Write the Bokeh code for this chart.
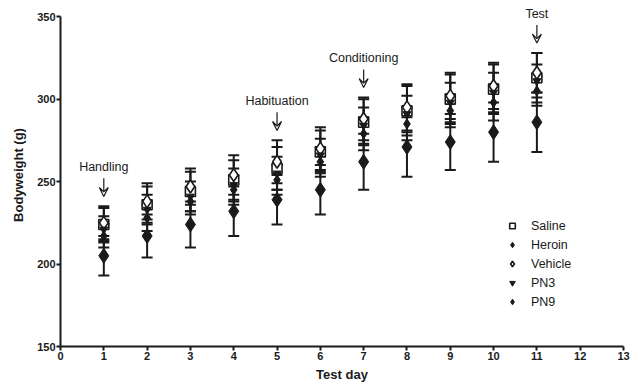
from bokeh.plotting import figure
from bokeh.models import (ColumnDataSource, Whisker, TeeHead, Range1d, FixedTicker,
                          Arrow, VeeHead, Legend, LegendItem, Label)
from bokeh.embed import file_html
from bokeh.resources import INLINE

days = [1, 2, 3, 4, 5, 6, 7, 8, 9, 10, 11]

saline_mean = [224, 236, 244, 251, 258, 268, 286, 293, 300, 306, 313]
saline_sd = [10, 11, 12, 12, 13, 13, 14, 15, 15, 15, 15]
heroin_mean = [205, 217, 224, 232, 239, 245, 262, 271, 274, 280, 286]
heroin_sd = [12, 13, 14, 15, 15, 15, 17, 18, 17, 18, 18]
vehicle_mean = [225, 238, 247, 254, 262, 270, 288, 295, 302, 308, 316]
vehicle_sd = [10, 11, 11, 12, 13, 13, 13, 14, 14, 14, 12]
pn3_mean = [221, 233, 241, 248, 255, 266, 284, 291, 298, 304, 311]
pn3_sd = [8, 9, 9, 10, 10, 10, 11, 11, 12, 12, 10]
pn9_mean = [217, 228, 238, 245, 251, 262, 279, 285, 293, 298, 305]
pn9_sd = [7, 8, 8, 9, 9, 9, 10, 10, 10, 11, 9]

series_names = ["Saline", "Heroin", "Vehicle", "PN3", "PN9"]

ann_days = [1, 5, 7, 11]
ann_labels = ["Handling", "Habituation", "Conditioning", "Test"]

x_ticks = list(range(0, 14))
y_ticks = [150, 200, 250, 300, 350]

FONT = "Liberation Sans"
INK = "#1a1a1a"

# y range extends a little above 350 so the "Test" label has room; the axis line stops at 350
p = figure(width=633, height=385, output_backend="svg", toolbar_location=None,
           x_range=Range1d(0, 13), y_range=Range1d(150, 358),
           min_border_left=60, min_border_right=10, min_border_top=3, min_border_bottom=39)
p.outline_line_color = None
p.xgrid.visible = False
p.ygrid.visible = False
p.background_fill_color = "white"
p.border_fill_color = "white"

for ax, ticks in ((p.xaxis[0], x_ticks), (p.yaxis[0], y_ticks)):
    ax.ticker = FixedTicker(ticks=ticks)
    ax.minor_tick_line_color = None
    ax.major_tick_in = 0
    ax.major_tick_out = 4
    ax.major_tick_line_width = 2
    ax.major_tick_line_color = INK
    ax.axis_line_width = 2
    ax.axis_line_color = INK
    ax.major_label_text_font = FONT
    ax.major_label_text_font_style = "bold"
    ax.major_label_text_font_size = "11px"
    ax.major_label_text_color = INK
    ax.axis_label_text_font = FONT
    ax.axis_label_text_font_style = "bold"
    ax.axis_label_text_font_size = "13px"
    ax.axis_label_text_color = INK
    ax.major_label_standoff = 1
    ax.axis_label_standoff = 4

p.yaxis[0].bounds = (150, 350)
p.xaxis.axis_label = "Test day"
p.yaxis.axis_label = "Bodyweight (g)"
p.yaxis.axis_label_standoff = 8

means = [saline_mean, heroin_mean, vehicle_mean, pn3_mean, pn9_mean]
sds = [saline_sd, heroin_sd, vehicle_sd, pn3_sd, pn9_sd]
styles = [
    dict(marker="square", size=10, fill_color="white", line_color=INK, line_width=1.6),
    dict(marker="diamond", size=15, fill_color=INK, line_color=INK, line_width=1),
    dict(marker="diamond", size=13, fill_color="white", line_color=INK, line_width=1.6),
    dict(marker="inverted_triangle", size=8, fill_color=INK, line_color=INK, line_width=1),
    dict(marker="diamond", size=10, fill_color=INK, line_color=INK, line_width=1),
]

sources = []
for m, s in zip(means, sds):
    src = ColumnDataSource(dict(x=days, y=m,
                                upper=[a + b for a, b in zip(m, s)],
                                lower=[a - b for a, b in zip(m, s)]))
    sources.append(src)
    w = Whisker(base="x", upper="upper", lower="lower", source=src,
                line_color=INK, line_width=2,
                upper_head=TeeHead(size=11, line_width=2, line_color=INK),
                lower_head=TeeHead(size=11, line_width=2, line_color=INK))
    p.add_layout(w)

items = []
for name, src, st in zip(series_names, sources, styles):
    r = p.scatter("x", "y", source=src, **st)
    items.append(LegendItem(label=name, renderers=[r]))

legend = Legend(items=items, location=(445, 35), border_line_color=None,
                background_fill_alpha=0, glyph_height=19, glyph_width=14,
                label_height=19, spacing=0, padding=0, margin=0, label_standoff=12,
                label_text_font=FONT, label_text_font_size="12.5px", label_text_color=INK)
p.add_layout(legend)

# annotations: arrows above the highest error bar of each annotated day
tops = [max(m[d - 1] + s[d - 1] for m, s in zip(means, sds)) for d in ann_days]
tips = [t + 6 for t in tops]
tails = [t + 11 for t in tips]
for d, tip, tail, lab in zip(ann_days, tips, tails, ann_labels):
    p.add_layout(Arrow(x_start=d, y_start=tail, x_end=d, y_end=tip,
                       line_color=INK, line_width=1.2,
                       end=VeeHead(size=9, line_color=INK, line_width=1.2, fill_alpha=0)))
    p.add_layout(Label(x=d, y=tail, text=lab, text_align="center", text_baseline="bottom",
                       y_offset=4, text_font=FONT, text_font_size="12.5px", text_color=INK))

open("out.html", "w").write(file_html(p, INLINE))
